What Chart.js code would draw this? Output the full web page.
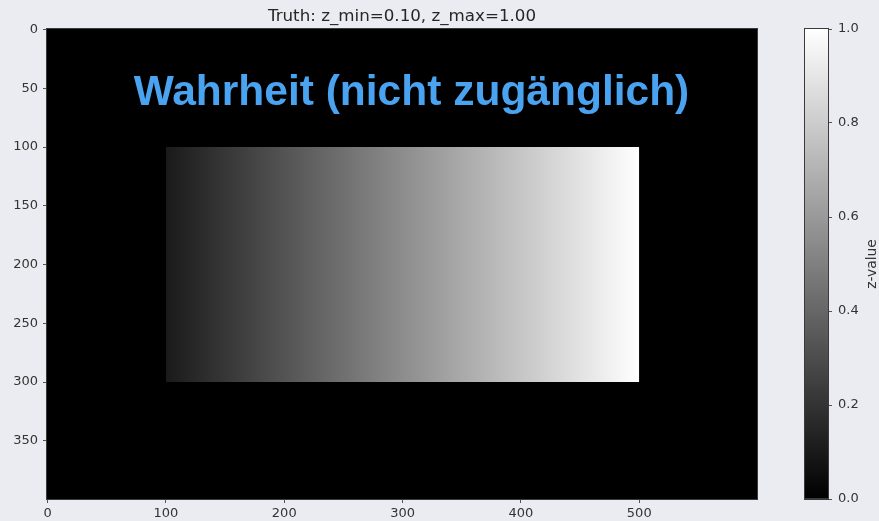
<!DOCTYPE html>
<html>
<head>
<meta charset="utf-8">
<script src="https://cdn.jsdelivr.net/npm/chart.js@4.4.1/dist/chart.umd.min.js"></script>
<style>
  html, body { margin: 0; padding: 0; background: #eaecf2; }
  #wrap { position: relative; width: 879px; height: 521px; overflow: hidden; }
  #main { position: absolute; left: 0; top: 0; }
  #cbar { position: absolute; left: 790px; top: 0; }
</style>
</head>
<body>
<div id="wrap">
  <canvas id="main" width="879" height="521"></canvas>
  <canvas id="cbar" width="89" height="521"></canvas>
</div>
<script>
// Image field (pixel units, edges of the outer pixels)
const fieldX = [-0.5, 599.5];
const fieldY = [-0.5, 399.5];
const backgroundZ = 0.0;

// Ramp rectangle: z grows from left edge to right edge
const rectX = [100, 500];
const rectY = [100, 300];
const rampZ = [0.10, 1.00];

// Colour scale limits and ticks
const zScale = [0.0, 1.0];
const xTicks = [0, 100, 200, 300, 400, 500];
const yTicks = [0, 50, 100, 150, 200, 250, 300, 350];
const cbarTicks = [0.0, 0.2, 0.4, 0.6, 0.8, 1.0];

const zMin = Math.min(...rampZ);
const zMax = Math.max(...rampZ);
const titleText = `Truth: z_min=${zMin.toFixed(2)}, z_max=${zMax.toFixed(2)}`;
const overlayText = 'Wahrheit (nicht zugänglich)';
const cbarLabel = 'z-value';

const tickFont = { family: 'DejaVu Sans', size: 13 };
const textColor = '#333333';
const frameColor = '#3a3a3a';

// grey colormap
function grey(z) {
  const t = Math.max(0, Math.min(1, (z - zScale[0]) / (zScale[1] - zScale[0])));
  const v = Math.round(255 * t);
  return `rgb(${v},${v},${v})`;
}

// horizontal or vertical ramp between two scale values; falls back to a flat colour before layout
function ramp(chart, scale, v0, v1, z0, z1, horizontal) {
  if (!scale) return grey(z0);
  const p0 = scale.getPixelForValue(v0);
  const p1 = scale.getPixelForValue(v1);
  if (!Number.isFinite(p0) || !Number.isFinite(p1) || p0 === p1) return grey(z0);
  const g = horizontal
    ? chart.ctx.createLinearGradient(p0, 0, p1, 0)
    : chart.ctx.createLinearGradient(0, p0, 0, p1);
  g.addColorStop(0, grey(z0));
  g.addColorStop(1, grey(z1));
  return g;
}

function frame(chart) {
  const { ctx, chartArea: a } = chart;
  ctx.save();
  ctx.strokeStyle = frameColor;
  ctx.lineWidth = 1;
  ctx.strokeRect(Math.round(a.left) - 0.5, Math.round(a.top) - 0.5,
                 Math.round(a.right - a.left) + 1, Math.round(a.bottom - a.top) + 1);
  ctx.restore();
}

const mainDecor = {
  id: 'mainDecor',
  afterDatasetsDraw(chart) {
    const { ctx, chartArea: a, scales } = chart;
    frame(chart);
    ctx.save();
    // title
    ctx.fillStyle = '#262626';
    ctx.font = '16.7px "DejaVu Sans"';
    ctx.textAlign = 'center';
    ctx.textBaseline = 'alphabetic';
    ctx.fillText(titleText, (a.left + a.right) / 2, 21);
    // overlay caption
    ctx.fillStyle = '#4aa3f0';
    ctx.font = 'bold 42.5px "Liberation Sans"';
    ctx.fillText(overlayText, scales.x.getPixelForValue(307.5), scales.y.getPixelForValue(64));
    ctx.restore();
  }
};

const cbarDecor = {
  id: 'cbarDecor',
  afterDatasetsDraw(chart) {
    const { ctx, chartArea: a } = chart;
    frame(chart);
    ctx.save();
    ctx.fillStyle = textColor;
    ctx.font = '13.8px "DejaVu Sans"';
    ctx.textAlign = 'center';
    ctx.textBaseline = 'middle';
    ctx.translate(82, (a.top + a.bottom) / 2);
    ctx.rotate(-Math.PI / 2);
    ctx.fillText(cbarLabel, 0, 0);
    ctx.restore();
  }
};

const axisGrid = { drawOnChartArea: false, drawTicks: true, tickLength: 4, tickWidth: 1, tickColor: '#555555' };

new Chart(document.getElementById('main'), {
  type: 'scatter',
  data: {
    datasets: [
      {
        // ramp rectangle, filled from its top edge down to its bottom edge
        data: [{ x: rectX[0], y: rectY[0] }, { x: rectX[1], y: rectY[0] }],
        showLine: true,
        pointRadius: 0,
        borderWidth: 0,
        borderColor: 'rgba(0,0,0,0)',
        order: 0,
        fill: { target: { value: rectY[1] } },
        backgroundColor: ctx => ramp(ctx.chart, ctx.chart.scales.x, rectX[0], rectX[1], rampZ[0], rampZ[1], true)
      },
      {
        // constant background of the field
        data: [{ x: fieldX[0], y: fieldY[0] }, { x: fieldX[1], y: fieldY[0] }],
        showLine: true,
        pointRadius: 0,
        borderWidth: 0,
        borderColor: 'rgba(0,0,0,0)',
        order: 1,
        fill: { target: { value: fieldY[1] } },
        backgroundColor: grey(backgroundZ)
      }
    ]
  },
  options: {
    responsive: false,
    devicePixelRatio: 1,
    animation: false,
    events: [],
    layout: { padding: { left: 0, top: 29, right: 122, bottom: 0 } },
    plugins: { legend: { display: false }, tooltip: { enabled: false }, title: { display: false } },
    scales: {
      x: {
        type: 'linear',
        min: fieldX[0], max: fieldX[1],
        afterBuildTicks(s) { s.ticks = xTicks.map(v => ({ value: v })); },
        afterFit(s) { s.height = 22; },
        grid: axisGrid,
        border: { display: false },
        ticks: { color: textColor, font: tickFont, padding: 3, maxRotation: 0, autoSkip: false, callback: v => String(v) }
      },
      y: {
        type: 'linear',
        reverse: true,
        min: fieldY[0], max: fieldY[1],
        afterBuildTicks(s) { s.ticks = yTicks.map(v => ({ value: v })); },
        afterFit(s) { s.width = 47; },
        grid: axisGrid,
        border: { display: false },
        ticks: { color: textColor, font: tickFont, padding: 5, autoSkip: false, callback: v => String(v) }
      }
    }
  },
  plugins: [mainDecor]
});

new Chart(document.getElementById('cbar'), {
  type: 'bar',
  data: {
    labels: [cbarLabel],
    datasets: [{
      data: [[zScale[0], zScale[1]]],
      borderWidth: 0,
      barPercentage: 1,
      categoryPercentage: 1,
      backgroundColor: ctx => ramp(ctx.chart, ctx.chart.scales.y, zScale[0], zScale[1], zScale[0], zScale[1], false)
    }]
  },
  options: {
    responsive: false,
    devicePixelRatio: 1,
    animation: false,
    events: [],
    layout: { padding: { left: 15, top: 29, right: 0, bottom: 22 } },
    plugins: { legend: { display: false }, tooltip: { enabled: false } },
    scales: {
      x: { display: false },
      y: {
        position: 'right',
        min: zScale[0], max: zScale[1],
        afterBuildTicks(s) { s.ticks = cbarTicks.map(v => ({ value: v })); },
        afterFit(s) { s.width = 51; },
        grid: axisGrid,
        border: { display: false },
        ticks: { color: textColor, font: tickFont, padding: 6, autoSkip: false, callback: v => Number(v).toFixed(1) }
      }
    }
  },
  plugins: [cbarDecor]
});
</script>
</body>
</html>
